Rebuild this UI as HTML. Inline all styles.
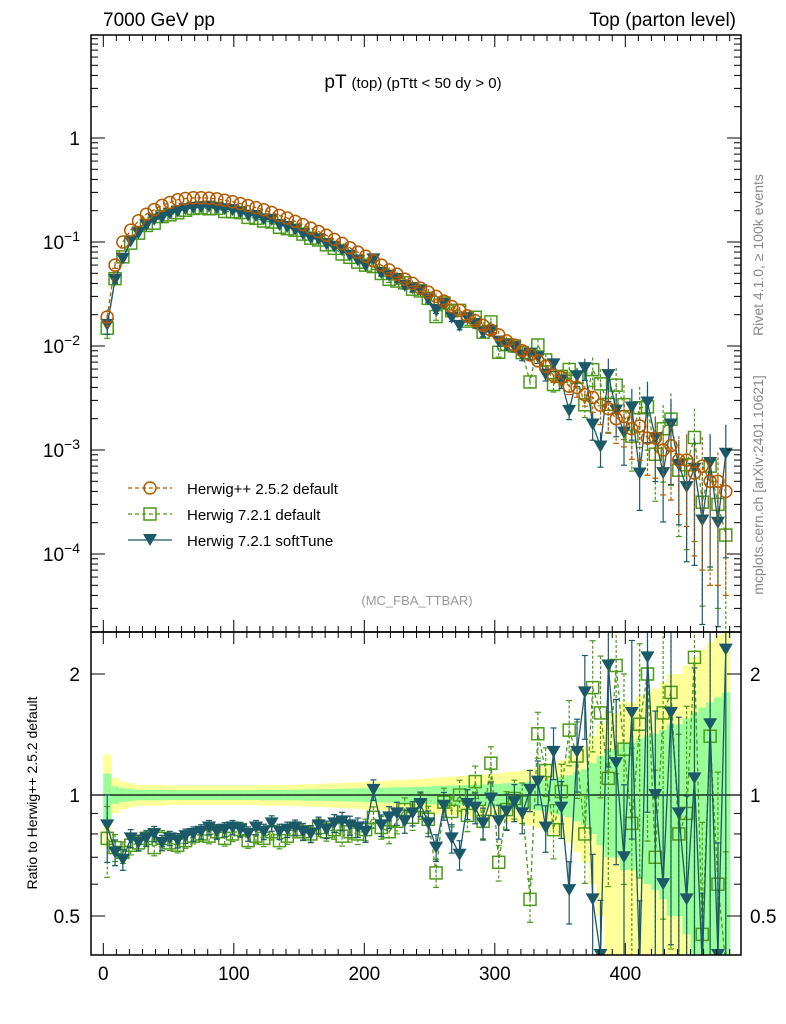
<!DOCTYPE html>
<html><head><meta charset="utf-8">
<style>
html,body{margin:0;padding:0;background:#fff;overflow:hidden;width:786px;height:1024px;}
svg{display:block;}
svg text{font-family:"Liberation Sans",sans-serif;}
</style></head>
<body>
<svg id="chart" width="786" height="1024" viewBox="0 0 786 1024" xmlns="http://www.w3.org/2000/svg">
<defs>
<clipPath id="clipMain"><rect x="91" y="35" width="650" height="597"/></clipPath>
<clipPath id="clipRatio"><rect x="91" y="632" width="650" height="323"/></clipPath>
</defs>
<g id="bands" clip-path="url(#clipRatio)"></g>
<g id="plots"></g>
<g id="axes"></g>
<text x="103" y="26" font-size="19">7000 GeV pp</text>
<text x="736" y="26" font-size="19" text-anchor="end">Top (parton level)</text>
<text x="413" y="88" font-size="19" text-anchor="middle">pT <tspan font-size="15">(top)  (pTtt &lt; 50 dy &gt; 0)</tspan></text>
<text x="417" y="605" font-size="13" fill="#999" text-anchor="middle">(MC_FBA_TTBAR)</text>
<text transform="translate(763,255) rotate(-90)" font-size="14" fill="#888" text-anchor="middle">Rivet 4.1.0, ≥ 100k events</text>
<text transform="translate(763,485) rotate(-90)" font-size="14" fill="#888" text-anchor="middle">mcplots.cern.ch [arXiv:2401.10621]</text>
<text transform="translate(37,793) rotate(-90)" font-size="14" text-anchor="middle">Ratio to Herwig++ 2.5.2 default</text>
<g>
 <g>
  <line x1="128" y1="488" x2="172" y2="488" stroke="#b35a00" stroke-dasharray="4,3" stroke-width="1.3"/>
  <circle cx="150" cy="488" r="6" fill="none" stroke="#b35a00" stroke-width="1.5"/>
  <text x="187" y="494" font-size="15">Herwig++ 2.5.2 default</text>
 </g>
 <g>
  <line x1="128" y1="514" x2="172" y2="514" stroke="#4c9a1a" stroke-dasharray="4,3" stroke-width="1.3"/>
  <rect x="144" y="508" width="12" height="12" fill="none" stroke="#4c9a1a" stroke-width="1.5"/>
  <text x="187" y="520" font-size="15">Herwig 7.2.1 default</text>
 </g>
 <g>
  <line x1="128" y1="540" x2="172" y2="540" stroke="#1b5868" stroke-width="1.3"/>
  <polygon points="143,534 157,534 150,546" fill="#1b5868"/>
  <text x="187" y="546" font-size="15">Herwig 7.2.1 softTune</text>
 </g>
</g>
</svg>
<script>
const binCenters=[3,9,15,21,27,33,39,45,51,57,63,69,75,81,87,93,99,105,111,117,123,129,135,141,147,153,159,165,171,177,183,189,195,201,207,213,219,225,231,237,243,249,255,261,267,273,279,285,291,297,303,309,315,321,327,333,339,345,351,357,363,369,375,381,387,393,399,405,411,417,423,429,435,441,447,453,459,465,471,477];
const herwigppValues=[0.019,0.060,0.100,0.13,0.16,0.185,0.205,0.225,0.24,0.255,0.262,0.266,0.266,0.264,0.26,0.252,0.244,0.234,0.224,0.214,0.204,0.192,0.18,0.17,0.158,0.147,0.136,0.126,0.116,0.106,0.097,0.088,0.08,0.073,0.066,0.06,0.054,0.049,0.044,0.040,0.036,0.033,0.030,0.027,0.024,0.022,0.0195,0.0175,0.0158,0.0142,0.0128,0.0112,0.0102,0.009,0.0082,0.0072,0.0064,0.0052,0.005,0.0041,0.004,0.0034,0.0032,0.0027,0.0025,0.002,0.0021,0.0016,0.0017,0.0013,0.0013,0.001,0.0011,0.0008,0.0008,0.0006,0.0007,0.0005,0.0005,0.0004];
const herwigppRelErr=[0.13,0.05,0.04,0.035,0.03,0.03,0.03,0.03,0.028,0.028,0.028,0.028,0.028,0.028,0.028,0.028,0.028,0.028,0.028,0.028,0.03,0.03,0.03,0.03,0.03,0.032,0.032,0.033,0.034,0.035,0.036,0.037,0.038,0.04,0.04,0.042,0.043,0.045,0.045,0.047,0.048,0.05,0.052,0.054,0.055,0.057,0.058,0.06,0.062,0.064,0.066,0.07,0.072,0.075,0.08,0.085,0.09,0.1,0.11,0.12,0.14,0.16,0.2,0.25,0.3,0.3,0.35,0.35,0.38,0.4,0.42,0.45,0.5,0.5,0.55,0.6,0.65,0.7,0.75,0.8];
const defaultRatio=[0.78,0.74,0.72,0.75,0.76,0.78,0.74,0.78,0.76,0.75,0.77,0.79,0.80,0.79,0.81,0.78,0.80,0.82,0.77,0.79,0.78,0.81,0.77,0.79,0.82,0.81,0.80,0.83,0.81,0.82,0.79,0.81,0.80,0.82,0.88,0.83,0.81,0.86,0.92,0.88,0.94,0.87,0.64,0.96,0.91,1.0,0.89,1.08,0.86,1.2,0.68,0.92,0.98,0.96,0.55,1.42,1.15,0.82,1.02,1.45,1.25,0.8,1.85,1.6,1.1,2.1,1.3,0.85,1.5,2.0,0.7,1.6,1.8,0.8,0.9,2.2,0.45,1.4,0.6,0.38];
const softTuneRatio=[0.84,0.72,0.69,0.78,0.76,0.78,0.80,0.76,0.78,0.77,0.79,0.80,0.81,0.83,0.81,0.82,0.83,0.82,0.80,0.83,0.81,0.85,0.81,0.82,0.83,0.81,0.80,0.84,0.82,0.85,0.86,0.84,0.83,0.81,1.03,0.84,0.88,0.90,0.86,0.90,0.95,0.85,0.74,0.94,0.78,0.71,0.95,0.93,0.85,0.98,0.86,0.91,0.96,0.90,1.03,1.08,0.83,1.28,0.93,0.58,1.28,1.8,0.55,0.4,2.1,1.2,0.7,1.6,0.35,2.2,1.0,0.6,1.6,0.9,0.55,1.1,0.3,1.5,0.4,2.3];
const xTicks=[0,100,200,300,400];
const mainYTicks=[-4,-3,-2,-1,0];
const ratioYTicks=[0.5,1,2];

const NS="http://www.w3.org/2000/svg";
const L=91,R=741,MT=35,MB=632,RB=955;
const xs=v=>103.3+1.305*v;
const ys=v=>Math.min(640,138-104*Math.log10(v));
const yr=v=>Math.max(620,Math.min(965,795-121*Math.log2(Math.max(v,0.05))));
const clampR=y=>Math.max(620,Math.min(965,y));
function mk(tag,attrs,parent){const e=document.createElementNS(NS,tag);for(const k in attrs)e.setAttribute(k,attrs[k]);parent.appendChild(e);return e;}
const bands=document.getElementById('bands'),plots=document.getElementById('plots'),axes=document.getElementById('axes');
const hw=3;
binCenters.forEach((c,i)=>{
  const e=herwigppRelErr[i];
  const y2=mk('rect',{x:xs(c-hw),width:xs(c+hw)-xs(c-hw)+0.5,y:clampR(yr(1+2*e)),height:clampR(yr(1-2*e))-clampR(yr(1+2*e)),fill:'#ffff99'},bands);
  
  
  const g=mk('rect',{x:xs(c-hw),width:xs(c+hw)-xs(c-hw)+0.5,y:clampR(yr(1+e)),height:clampR(yr(1-e))-clampR(yr(1+e)),fill:'#99ff99'},bands);
  
  
});
mk('line',{x1:L,x2:R,y1:yr(1),y2:yr(1),stroke:'#000','stroke-width':1.2},bands);
const series=[
 {name:'herwig721-default',col:'#4c9a1a',dash:'4,3',marker:'square',ratio:defaultRatio,errScale:1.1},
 {name:'herwig721-softtune',col:'#1b5868',dash:null,marker:'tri',ratio:softTuneRatio,errScale:1.05},
 {name:'herwigpp',col:'#b35a00',dash:'4,3',marker:'circle',ratio:binCenters.map(()=>1),errScale:1}
];
function marker(s,x,y,parent){
  let m;
  if(s.marker==='circle')m=mk('circle',{cx:x,cy:y,r:6,fill:'none',stroke:s.col,'stroke-width':1.5},parent);
  else if(s.marker==='square')m=mk('rect',{x:x-6,y:y-6,width:12,height:12,fill:'none',stroke:s.col,'stroke-width':1.5},parent);
  else m=mk('polygon',{points:`${x-7},${y-6} ${x+7},${y-6} ${x},${y+6}`,fill:s.col},parent);
  return m;
}
series.forEach(s=>{
  const gm=mk('g',{'clip-path':'url(#clipMain)'},plots);
  
  
  const gr=mk('g',{'clip-path':'url(#clipRatio)'},plots);
  
  
  const vals=binCenters.map((c,i)=>herwigppValues[i]*s.ratio[i]);
  const lineAttrs={fill:'none',stroke:s.col,'stroke-width':1.3};
  if(s.dash)lineAttrs['stroke-dasharray']=s.dash;
  const pm=mk('polyline',Object.assign({points:binCenters.map((c,i)=>xs(c)+','+ys(vals[i])).join(' ')},lineAttrs),gm);
  
  
  if(s.name!=='herwigpp'){
    const pr=mk('polyline',Object.assign({points:binCenters.map((c,i)=>xs(c)+','+yr(s.ratio[i])).join(' ')},lineAttrs),gr);
    
    
  }
  binCenters.forEach((c,i)=>{
    const e=Math.min(0.9,herwigppRelErr[i]*s.errScale*1.4);
    const x=xs(c);
    const ea={stroke:s.col,'stroke-width':1.2};
    if(s.dash)ea['stroke-dasharray']='3,2';
    if(e>0.06){
      mk('line',Object.assign({x1:x,x2:x,y1:ys(vals[i]*(1+e)),y2:ys(vals[i]*(1-e))},ea),gm);
      mk('line',{x1:x-3,x2:x+3,y1:ys(vals[i]*(1-e)),y2:ys(vals[i]*(1-e)),stroke:s.col,'stroke-width':1.2},gm);
    }
    const pt=marker(s,x,ys(vals[i]),gm);
    
    
    if(s.name!=='herwigpp'){
      const r=s.ratio[i];
      if(e>0.03){
        mk('line',Object.assign({x1:x,x2:x,y1:yr(r*(1+e)),y2:yr(r*(1-e))},ea),gr);
        mk('line',{x1:x-3,x2:x+3,y1:yr(r*(1+e)),y2:yr(r*(1+e)),stroke:s.col,'stroke-width':1.2},gr);
        mk('line',{x1:x-3,x2:x+3,y1:yr(r*(1-e)),y2:yr(r*(1-e)),stroke:s.col,'stroke-width':1.2},gr);
      }
      const rp=marker(s,x,yr(r),gr);
      
      
    }
  });
});
const f1=mk('rect',{x:L,y:MT,width:R-L,height:MB-MT,fill:'none',stroke:'#000','stroke-width':1.5},axes);


const f2=mk('rect',{x:L,y:MB,width:R-L,height:RB-MB,fill:'none',stroke:'#000','stroke-width':1.5},axes);


for(let v=0;v<=480;v+=10){
  const x=xs(v);const major=v%100===0;const len=major?12:6;
  [[MT,1],[MB,-1],[MB,1],[RB,-1]].forEach(([y0,d])=>mk('line',{x1:x,x2:x,y1:y0,y2:y0+d*len,stroke:'#000','stroke-width':1},axes));
}
xTicks.forEach(v=>{
  const t=mk('text',{x:xs(v),y:980,'font-size':19,'text-anchor':'middle'},axes);
  t.textContent=v;
  
  
});
for(let d=-5;d<=0;d++){
  for(let m=1;m<10;m++){
    const y=138-104*Math.log10(m*Math.pow(10,d));
    if(y<MT||y>MB)continue;
    const len=m===1?14:7;
    mk('line',{x1:L,x2:L+len,y1:y,y2:y,stroke:'#000','stroke-width':1},axes);
    mk('line',{x1:R,x2:R-len,y1:y,y2:y,stroke:'#000','stroke-width':1},axes);
  }
}
mainYTicks.forEach(p=>{
  const y=138-104*p;
  const t=mk('text',{x:80,y:y+7,'font-size':19,'text-anchor':'end'},axes);
  if(p===0)t.textContent='1';
  else{t.textContent='10';const ts=mk('tspan',{dy:-8,'font-size':14},t);ts.textContent='−'+(-p);}
  
  
});
[0.5,0.6,0.7,0.8,0.9,1,2].forEach(vv=>{
  const y=yr(vv);
  const major=[0.5,1,2].includes(vv);const len=major?14:7;
  mk('line',{x1:L,x2:L+len,y1:y,y2:y,stroke:'#000','stroke-width':1},axes);
  mk('line',{x1:R,x2:R-len,y1:y,y2:y,stroke:'#000','stroke-width':1},axes);
});
ratioYTicks.forEach(v=>{
  const y=yr(v);
  const t=mk('text',{x:80,y:y+7,'font-size':19,'text-anchor':'end'},axes);
  t.textContent=v;
  
  
  const t2=mk('text',{x:750,y:y+7,'font-size':19},axes);
  t2.textContent=v;
  
  
});
</script>
</body></html>
